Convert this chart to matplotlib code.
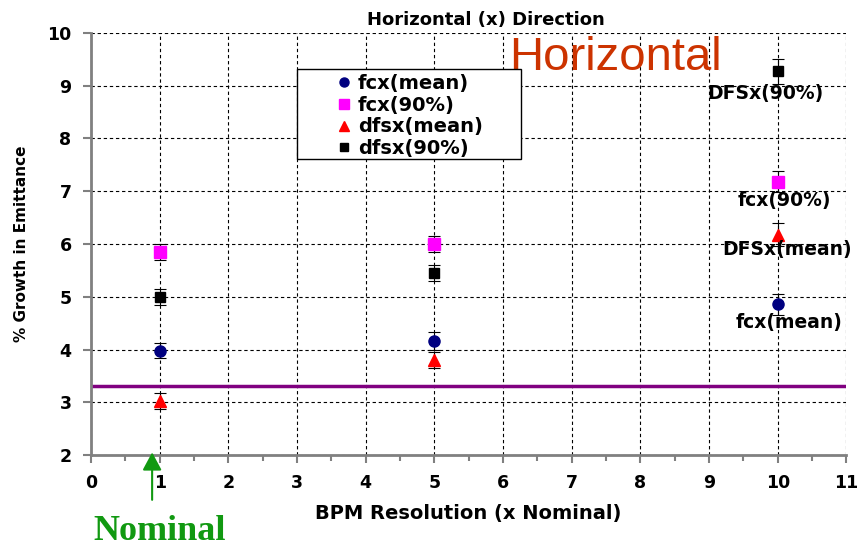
import matplotlib
matplotlib.use('Agg')
import matplotlib.pyplot as plt
from matplotlib.lines import Line2D
from matplotlib.patches import Rectangle
from matplotlib.ticker import MultipleLocator

# BPM resolution (x nominal)
resolution = [1, 5, 10]

# growth in emittance (%) and error bar half-widths
fcx_mean = [3.98, 4.17, 4.86]
fcx_mean_err = [0.15, 0.17, 0.2]
fcx_90 = [5.85, 6.0, 7.18]
fcx_90_err = [0.15, 0.15, 0.2]
dfsx_mean = [3.02, 3.8, 6.18]
dfsx_mean_err = [0.15, 0.15, 0.22]
dfsx_90 = [5.0, 5.45, 9.27]
dfsx_90_err = [0.15, 0.15, 0.23]

baseline = 3.3

plt.rcParams['font.family'] = ['DejaVu Sans']
plt.rcParams['font.weight'] = 'bold'
plt.rcParams['axes.titleweight'] = 'bold'
plt.rcParams['axes.labelweight'] = 'bold'

fig = plt.figure(figsize=(8.61, 5.48), dpi=100)
ax = fig.add_axes([0.1057, 0.1697, 0.8773, 0.7701])

ax.axhline(baseline, color='#800080', lw=2.5, zorder=2)

series = [
    (fcx_mean, fcx_mean_err, 'o', '#000080', 8, 'fcx(mean)'),
    (fcx_90, fcx_90_err, 's', '#ff00ff', 8, 'fcx(90%)'),
    (dfsx_mean, dfsx_mean_err, '^', '#ff0000', 9, 'dfsx(mean)'),
    (dfsx_90, dfsx_90_err, 's', '#000000', 7, 'dfsx(90%)'),
]
handles = []
for vals, errs, mk, col, ms, lab in series:
    ax.errorbar(resolution, vals, yerr=errs, fmt=mk, color=col, ms=ms,
                ecolor='black', elinewidth=0.8, capsize=4, capthick=0.8,
                zorder=3)
    handles.append(Line2D([], [], ls='none', marker=mk, color=col,
                          ms=ms - 1.5, label=lab))

ax.set_xlim(0, 11)
ax.set_ylim(2, 10)
ax.xaxis.set_major_locator(MultipleLocator(1))
ax.xaxis.set_minor_locator(MultipleLocator(0.5))
ax.yaxis.set_major_locator(MultipleLocator(1))
ax.grid(True, which='major', color='black', ls=(0, (3, 2.5)), lw=0.8)
ax.tick_params(which='both', direction='out', color='#808080', width=1.5)
ax.tick_params(which='major', length=6, labelsize=12.5, pad=8)
ax.tick_params(which='minor', length=4)
for side in ['top', 'right']:
    ax.spines[side].set_visible(False)
for side in ['left', 'bottom']:
    ax.spines[side].set_color('#808080')
    ax.spines[side].set_linewidth(2)

ax.set_xlabel('BPM Resolution (x Nominal)', fontsize=14, labelpad=8)
ax.set_ylabel('% Growth in Emittance', fontsize=11, labelpad=13)
ax.set_title('Horizontal (x) Direction', fontsize=13, pad=6, x=0.523)

# legend box
fig.patches.append(Rectangle((297 / 861, 1 - 159 / 548), 224 / 861, 90 / 548,
                             transform=fig.transFigure, fc='white',
                             ec='black', lw=1.0, zorder=5))
fig.legend(handles=handles, loc='upper left',
           bbox_to_anchor=(336 / 861, 1 - 74 / 548), frameon=False,
           handlelength=0.8, handletextpad=0.32, borderpad=0,
           borderaxespad=0, labelspacing=0.14, prop={'size': 14})

# point labels at 10x nominal
notes = [('DFSx(90%)', 9.82, 8.86), ('fcx(90%)', 10.1, 6.83),
         ('DFSx(mean)', 10.13, 5.89), ('fcx(mean)', 10.16, 4.52)]
for txt, xx, yy in notes:
    ax.text(xx, yy, txt, ha='center', va='center', fontsize=13.5, zorder=4)

ax.text(7.64, 9.53, 'Horizontal', ha='center', va='center', fontsize=34,
        color='#cc3300', fontweight='normal', family='Liberation Sans',
        zorder=4)

# nominal marker below the axis
ax.annotate('', xy=(0.89, 2.05), xytext=(0.89, 1.15), xycoords='data',
            arrowprops=dict(arrowstyle='-|>,head_width=0.58,head_length=1.08',
                            color='#119911', lw=1.5, shrinkA=0, shrinkB=0),
            annotation_clip=False)
fig.text(160 / 861, 1 - 532 / 548, 'Nominal', ha='center', va='center',
         fontsize=26, fontweight='bold', color='#119911',
         family='Liberation Serif')

fig.savefig('out.png', dpi=100)
